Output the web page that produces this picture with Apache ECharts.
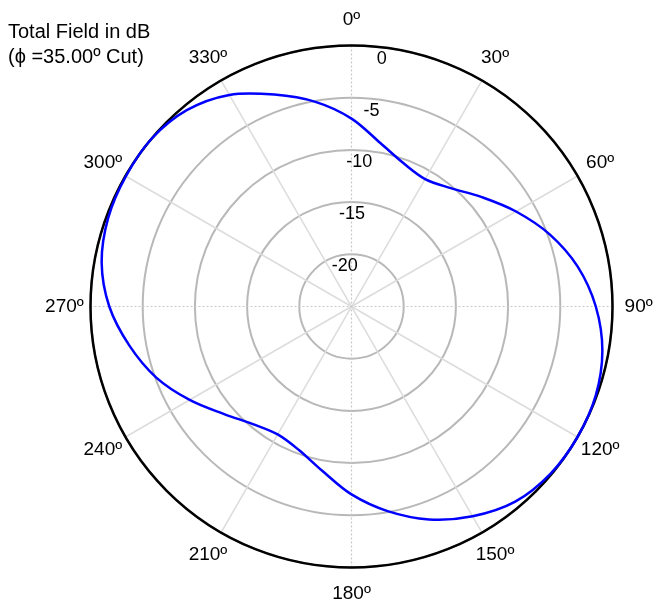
<!DOCTYPE html>
<html>
<head>
<meta charset="utf-8">
<script src="https://cdn.jsdelivr.net/npm/echarts@6/dist/echarts.min.js"></script>
<style>
  html, body { margin: 0; padding: 0; background: #fff; }
  #chart { width: 656px; height: 607px; }
</style>
</head>
<body>
<div id="chart"></div>
<script>
// ---- data ----
var angles = [0,10,20,30,40,50,60,70,80,90,100,110,120,130,140,150,160,170,180,190,200,210,220,230,240,250,260,270,280,290,300,310,320,330,340,350];
var fieldDb = [-7.0,-9.1,-10.4,-10.9,-10.2,-8.7,-6.8,-4.8,-3.0,-1.6,-0.6,-0.1,0,-0.1,-0.6,-1.8,-3.3,-5.1,-7.0,-9.0,-10.35,-10.85,-10.3,-9.0,-7.1,-5.1,-3.4,-1.8,-0.7,-0.2,-0.05,0,-0.45,-1.6,-3.4,-5.1];
var angleTicks = [0,30,60,90,120,150,180,210,240,270,300,330];
var angleTickLabels = ['0º','30º','60º','90º','120º','150º','180º','210º','240º','270º','300º','330º'];
var radiusTicks = [0,-5,-10,-15,-20];
var radiusTickLabels = ['0','-5','-10','-15','-20'];
var titleText = 'Total Field in dB\n(ϕ =35.00º Cut)';

// ---- layout / style ----
var FONT = '"Liberation Sans", Arial, Helvetica, sans-serif';
var RMIN = -25, RMAX = 0;
var angleLabelRadius = 2.5;   // in dB units beyond the outer ring
var radiusLabelAngle = 8;

var curveData = angles.map(function (a, i) { return [fieldDb[i], a]; });
var angleLabelData = angleTicks.map(function (a, i) { return { value: [angleLabelRadius, a], name: angleTickLabels[i] }; });
var radiusLabelData = radiusTicks.map(function (v, i) { return { value: [v, radiusLabelAngle], name: radiusTickLabels[i] }; });

var spokeColors = ['rgba(0,0,0,0)', '#dcdcdc', '#dcdcdc'];

// closed smooth curve (Catmull-Rom) through the points, positioned by the polar coordinate system
function renderCurve(params, api) {
  if (params.dataIndex !== 0) return null;
  var n = curveData.length;
  var pts = curveData.map(function (d) { return api.coord([d[0], d[1]]); });
  var d = 'M' + pts[0][0].toFixed(2) + ',' + pts[0][1].toFixed(2);
  for (var i = 0; i < n; i++) {
    var p0 = pts[(i - 1 + n) % n], p1 = pts[i], p2 = pts[(i + 1) % n], p3 = pts[(i + 2) % n];
    var c1x = p1[0] + (p2[0] - p0[0]) / 6, c1y = p1[1] + (p2[1] - p0[1]) / 6;
    var c2x = p2[0] - (p3[0] - p1[0]) / 6, c2y = p2[1] - (p3[1] - p1[1]) / 6;
    d += 'C' + c1x.toFixed(2) + ',' + c1y.toFixed(2) + ' ' + c2x.toFixed(2) + ',' + c2y.toFixed(2) + ' ' + p2[0].toFixed(2) + ',' + p2[1].toFixed(2);
  }
  d += 'Z';
  return {
    type: 'path',
    shape: { pathData: d },
    style: { stroke: '#0000ff', lineWidth: 2.5, fill: null },
    silent: true
  };
}

var labelCommon = { fontFamily: FONT, color: '#000', textBorderWidth: 0, textBorderColor: 'transparent', textShadowBlur: 0 };

var chart = echarts.init(document.getElementById('chart'), null, { renderer: 'canvas' });
chart.setOption({
  animation: false,
  backgroundColor: '#ffffff',
  title: {
    text: titleText,
    left: 8, top: 20, padding: 0,
    textStyle: { fontFamily: FONT, fontSize: 20, fontWeight: 'normal', color: '#000', lineHeight: 25 }
  },
  polar: [
    { center: [351.5, 306.5], radius: 261 },
    { center: [351.5, 306.5], radius: 261 }
  ],
  angleAxis: [
    {
      polarIndex: 0, type: 'value', min: 0, max: 360, interval: 30,
      startAngle: 90, clockwise: true,
      axisLine: { show: true, lineStyle: { color: '#000', width: 2.5 } },
      axisTick: { show: false },
      axisLabel: { show: false },
      splitLine: { show: true, lineStyle: { color: spokeColors, width: 1.5 } }
    },
    {
      polarIndex: 1, type: 'value', min: 0, max: 360, interval: 90,
      startAngle: 90, clockwise: true,
      axisLine: { show: false },
      axisTick: { show: false },
      axisLabel: { show: false },
      splitLine: { show: true, lineStyle: { color: '#c8c8c8', width: 1.2, type: [2, 2] } }
    }
  ],
  radiusAxis: [
    {
      polarIndex: 0, type: 'value', min: RMIN, max: RMAX, interval: 5,
      axisLine: { show: false }, axisTick: { show: false }, axisLabel: { show: false },
      splitLine: { show: true, lineStyle: { color: '#b8b8b8', width: 2 } }
    },
    {
      polarIndex: 1, type: 'value', min: RMIN, max: RMAX, interval: 5,
      axisLine: { show: false }, axisTick: { show: false }, axisLabel: { show: false },
      splitLine: { show: false }
    }
  ],
  series: [
    {
      type: 'custom', coordinateSystem: 'polar', polarIndex: 0,
      data: curveData, renderItem: renderCurve, z: 5, silent: true
    },
    {
      type: 'scatter', coordinateSystem: 'polar', polarIndex: 0, clip: false,
      data: angleLabelData, symbolSize: 0, silent: true, z: 6,
      itemStyle: { color: '#000', opacity: 1 },
      label: Object.assign({ show: true, position: 'inside', formatter: '{b}', align: 'center', verticalAlign: 'middle', fontSize: 19 }, labelCommon)
    },
    {
      type: 'scatter', coordinateSystem: 'polar', polarIndex: 0, clip: false,
      data: radiusLabelData, symbolSize: 0, silent: true, z: 6,
      itemStyle: { color: '#000', opacity: 1 },
      label: Object.assign({ show: true, position: 'inside', formatter: '{b}', align: 'right', verticalAlign: 'middle', offset: [-1, 11], fontSize: 18 }, labelCommon)
    }
  ]
});
</script>
</body>
</html>
